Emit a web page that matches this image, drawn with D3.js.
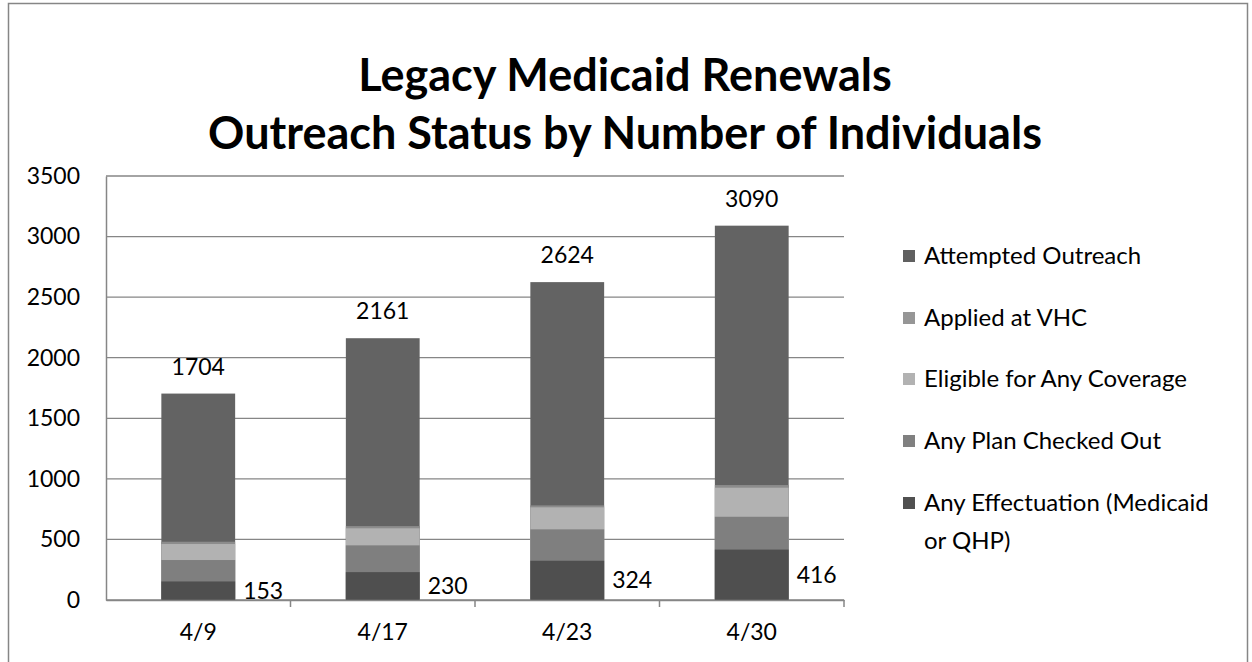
<!DOCTYPE html>
<html>
<head>
<meta charset="utf-8">
<script src="https://cdn.jsdelivr.net/npm/d3@7"></script>
<style>
  body { margin: 0; background: #fff; }
  svg { font-family: Lato, "Open Sans", sans-serif; }
</style>
</head>
<body>
<div class="chart"></div>
<script>
// values (each status is a subset of the one above it)
const dates = ['4/9', '4/17', '4/23', '4/30'];
const attemptedOutreach = [1704, 2161, 2624, 3090];
const appliedAtVHC = [481, 610, 781, 949];
const eligibleAnyCoverage = [462, 592, 765, 927];
const planCheckedOut = [330, 451, 583, 687];
const anyEffectuation = [153, 230, 324, 416];
const yTicks = [0, 500, 1000, 1500, 2000, 2500, 3000, 3500];

const seriesNames = ['Attempted Outreach', 'Applied at VHC', 'Eligible for Any Coverage',
                     'Any Plan Checked Out', 'Any Effectuation (Medicaid or QHP)'];
const seriesValues = [attemptedOutreach, appliedAtVHC, eligibleAnyCoverage, planCheckedOut, anyEffectuation];
const colors = ['#636363', '#8c8c8c', '#b2b2b2', '#7f7f7f', '#4f4f4f'];
const legendColors = ['#606060', '#969696', '#b2b2b2', '#808080', '#505050'];

const W = 1252, H = 662;
const margin = { top: 176, left: 106, right: 408, bottom: 62 };
const width = W - margin.left - margin.right;
const height = H - margin.top - margin.bottom;
const numSize = '23px';

const svg = d3.select('.chart').append('svg')
  .attr('width', W)
  .attr('height', H);

// outer chart frame
svg.append('rect')
  .attr('x', 8.5).attr('y', 3.5)
  .attr('width', 1239).attr('height', 680)
  .attr('fill', 'none')
  .attr('stroke', '#868686')
  .attr('stroke-width', 1.5);

svg.append('text')
  .attr('x', 625).attr('y', 91)
  .attr('text-anchor', 'middle')
  .attr('font-size', '45px')
  .attr('font-weight', 'bold')
  .text('Legacy Medicaid Renewals');
svg.append('text')
  .attr('x', 625).attr('y', 149)
  .attr('text-anchor', 'middle')
  .attr('font-size', '45px')
  .attr('font-weight', 'bold')
  .text('Outreach Status by Number of Individuals');

const g = svg.append('g')
  .attr('transform', `translate(${margin.left},${margin.top})`);

const x = d3.scaleBand().domain(dates).range([0, width]).paddingInner(0.6).paddingOuter(0.3);
const band = d3.scaleBand().domain(dates).range([0, width]);
const y = d3.scaleLinear().domain([0, 3500]).range([height, 0]);

// gridlines
g.append('g')
  .selectAll('line')
  .data(yTicks)
  .enter()
  .append('line')
  .attr('x1', 0).attr('x2', width)
  .attr('y1', d => y(d)).attr('y2', d => y(d))
  .attr('stroke', '#868686')
  .attr('stroke-width', 1.3);

// y axis
const yAxis = g.append('g')
  .call(d3.axisLeft(y).tickValues(yTicks).tickFormat(d3.format('d')).tickSize(0).tickPadding(26));
yAxis.select('.domain').attr('stroke', '#868686').attr('stroke-width', 1.5);
yAxis.selectAll('text').attr('font-size', numSize).attr('fill', '#000').attr('font-family', 'Lato');

// bars, drawn largest first so the subsets sit on top
seriesValues.forEach((vals, s) => {
  g.append('g')
    .selectAll('rect')
    .data(vals)
    .enter()
    .append('rect')
    .attr('x', (d, i) => x(dates[i]))
    .attr('width', x.bandwidth())
    .attr('y', d => y(d))
    .attr('height', d => height - y(d))
    .attr('fill', colors[s]);
});

// x axis
const xAxis = g.append('g')
  .attr('transform', `translate(0,${height})`)
  .call(d3.axisBottom(band).tickSize(0).tickPadding(24));
xAxis.select('.domain').attr('stroke', '#868686').attr('stroke-width', 1.5);
xAxis.selectAll('text').attr('font-size', numSize).attr('fill', '#000').attr('font-family', 'Lato');
g.append('g')
  .selectAll('line')
  .data(dates)
  .enter()
  .append('line')
  .attr('x1', d => band(d) + band.bandwidth())
  .attr('x2', d => band(d) + band.bandwidth())
  .attr('y1', height).attr('y2', height + 7)
  .attr('stroke', '#868686')
  .attr('stroke-width', 1.5);

// total labels above bars
g.append('g')
  .selectAll('text')
  .data(attemptedOutreach)
  .enter()
  .append('text')
  .attr('x', (d, i) => x(dates[i]) + x.bandwidth() / 2)
  .attr('y', d => y(d) - 27)
  .attr('dy', '0.35em')
  .attr('text-anchor', 'middle')
  .attr('font-size', numSize)
  .text(d => d);

// effectuation labels beside bars
g.append('g')
  .selectAll('text')
  .data(anyEffectuation)
  .enter()
  .append('text')
  .attr('x', (d, i) => x(dates[i]) + x.bandwidth() + 8)
  .attr('y', d => (y(d) + height) / 2)
  .attr('dy', '0.35em')
  .attr('font-size', numSize)
  .text(d => d);

// legend
const legendY = [256, 318, 379, 441, 503];
const legend = svg.append('g');
seriesNames.forEach((name, i) => {
  legend.append('rect')
    .attr('x', 903).attr('y', legendY[i] - 6)
    .attr('width', 12).attr('height', 12)
    .attr('fill', legendColors[i]);
  const t = legend.append('text')
    .attr('x', 924).attr('y', legendY[i])
    .attr('dy', '0.35em')
    .attr('font-size', '24px');
  if (i === 4) {
    t.append('tspan').attr('x', 924).text('Any Effectuation (Medicaid');
    t.append('tspan').attr('x', 924).attr('dy', '1.55em').text('or QHP)');
  } else {
    t.text(name);
  }
});
</script>
</body>
</html>
